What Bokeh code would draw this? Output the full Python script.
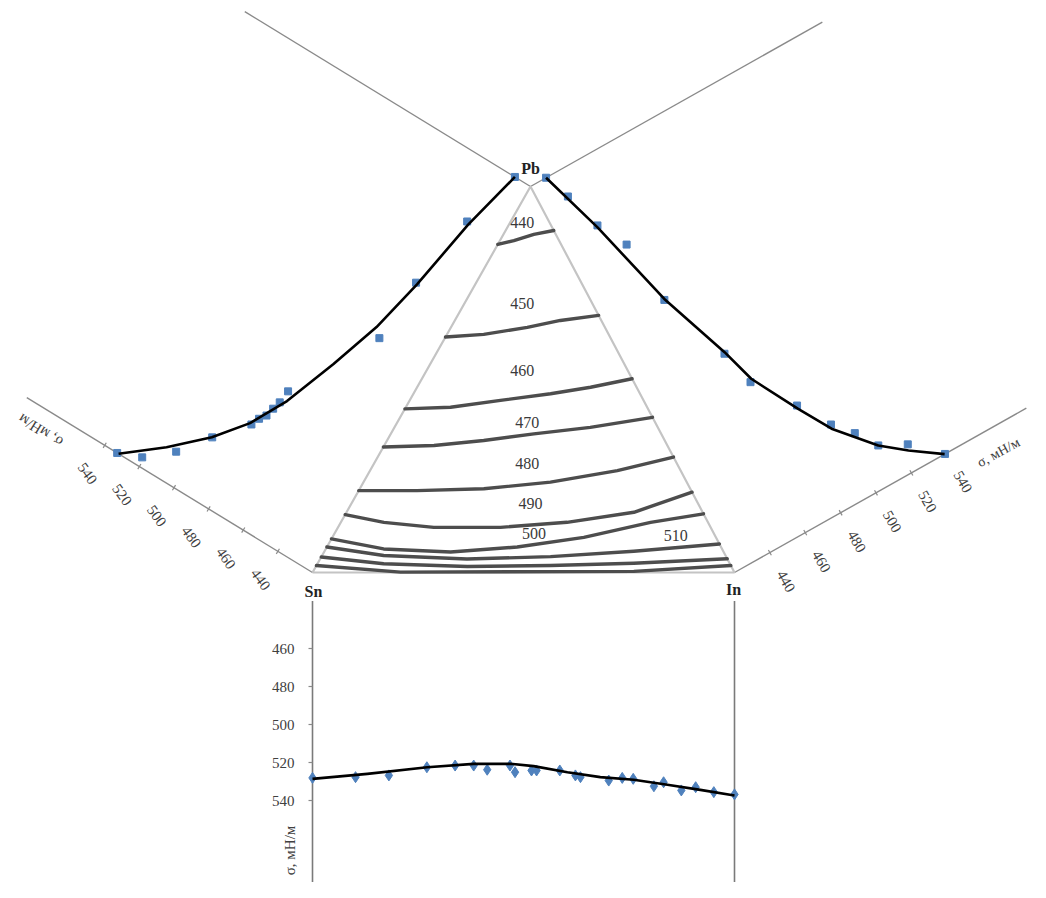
import numpy as np
from bokeh.plotting import figure
from bokeh.models import Range1d
from bokeh.core.properties import value
from bokeh.embed import file_html
from bokeh.resources import INLINE

# ---------------- data ----------------
# Sn-Pb binary (x_Pb, sigma mN/m)
snpb_pts_x = [0.0, 0.021, 0.072, 0.142, 0.213, 0.233, 0.248, 0.269, 0.289, 0.320, 0.530, 0.680, 0.858, 1.0]
snpb_pts_s = [532.8, 521.0, 507.8, 495.8, 482.1, 480.2, 477.8, 476.6, 475.3, 474.4, 448.1, 445.8, 438.7, 429.0]
snpb_fit_x = [0.0, 0.069, 0.142, 0.214, 0.300, 0.426, 0.548, 0.678, 0.853, 1.0]
snpb_fit_s = [532.0, 513.0, 496.0, 483.0, 472.5, 461.5, 452.0, 445.0, 437.5, 429.0]

# In-Pb binary (x_Pb, sigma)
inpb_pts_x = [1.0, 0.938, 0.847, 0.776, 0.623, 0.448, 0.362, 0.263, 0.187, 0.143, 0.092, 0.061, 0.0]
inpb_pts_s = [428.8, 434.0, 440.2, 448.5, 452.2, 466.0, 470.8, 485.7, 496.1, 504.5, 511.9, 525.0, 539.0]
inpb_fit_x = [0.0, 0.048, 0.092, 0.178, 0.255, 0.368, 0.451, 0.625, 0.843, 1.0]
inpb_fit_s = [538.8, 523.9, 511.9, 495.4, 485.4, 471.9, 466.4, 452.4, 439.8, 428.8]

# Sn-In binary (x_In, sigma)
snin_pts_x = [0.0, 0.102, 0.181, 0.271, 0.338, 0.382, 0.414, 0.468, 0.480, 0.519, 0.531, 0.586,
              0.623, 0.635, 0.702, 0.734, 0.760, 0.809, 0.832, 0.874, 0.908, 0.951, 1.0]
snin_pts_s = [528.1, 527.7, 526.8, 522.5, 521.6, 521.6, 523.8, 521.6, 525.1, 524.2, 524.2, 524.2,
              526.8, 527.7, 529.5, 528.1, 528.6, 532.5, 530.4, 534.7, 533.0, 535.6, 536.8]
snin_fit_x = [0.0, 0.130, 0.272, 0.382, 0.469, 0.524, 0.604, 0.682, 0.761, 0.841, 0.919, 1.0]
snin_fit_s = [528.6, 526.0, 522.5, 520.7, 520.7, 521.9, 525.1, 527.7, 529.1, 531.7, 534.4, 537.4]

# ternary iso-lines of surface tension (x_In, x_Pb)
iso_levels = [440, 450, 460, 470, 480, 490, 500, 510, 520, 530]
iso_in = [
    [0.0, 0.033, 0.072, 0.114],
    [0.0, 0.087, 0.181, 0.250, 0.334],
    [0.0, 0.106, 0.215, 0.325, 0.411, 0.498],
    [0.0, 0.118, 0.229, 0.339, 0.464, 0.598],
    [0.0, 0.138, 0.294, 0.443, 0.586, 0.701],
    [0.0, 0.102, 0.227, 0.385, 0.536, 0.681, 0.792],
    [0.0, 0.137, 0.300, 0.451, 0.596, 0.734, 0.848],
    [0.0, 0.146, 0.348, 0.543, 0.733, 0.926],
    [0.0, 0.157, 0.359, 0.555, 0.749, 0.9645],
    [0.0, 0.208, 0.760, 0.982],
]
iso_pb = [
    [0.850, 0.860, 0.876, 0.886],
    [0.610, 0.617, 0.635, 0.653, 0.666],
    [0.424, 0.428, 0.446, 0.463, 0.480, 0.502],
    [0.325, 0.329, 0.342, 0.359, 0.376, 0.402],
    [0.212, 0.212, 0.217, 0.234, 0.264, 0.299],
    [0.150, 0.130, 0.117, 0.117, 0.130, 0.156, 0.208],
    [0.087, 0.061, 0.053, 0.066, 0.091, 0.130, 0.152],
    [0.066, 0.044, 0.035, 0.041, 0.055, 0.074],
    [0.040, 0.0225, 0.0155, 0.018, 0.024, 0.0355],
    [0.018, 0.001, 0.003, 0.018],
]
iso_label_text = ["440", "450", "460", "470", "480", "490", "500", "510"]
iso_label_in = [0.028, 0.137, 0.227, 0.308, 0.363, 0.424, 0.473, 0.811]
iso_label_pb = [0.9075, 0.697, 0.523, 0.389, 0.282, 0.179, 0.100, 0.096]

tick_vals = [440, 460, 480, 500, 520, 540]
bottom_tick_vals = [460, 480, 500, 520, 540]
axis_title = "σ, мН/м"

# ---------------- geometry ----------------
SN = np.array([312.0, 572.0])
IN = np.array([734.0, 572.0])
PB = np.array([530.0, 186.0])
S0 = 420.0      # sigma at the triangle edge
K = 2.03        # px per mN/m (side panels)
KB = 1.9        # px per mN/m (bottom panel)
DL = np.array([-0.853, -0.522]); DL = DL / np.linalg.norm(DL)
DR = np.array([0.87, -0.49]); DR = DR / np.linalg.norm(DR)
S_MAX = 585.0


def tern(a, b):
    a = np.asarray(a, float); b = np.asarray(b, float)
    P = SN[None, :] + a[:, None] * (IN - SN)[None, :] + b[:, None] * (PB - SN)[None, :]
    return P[:, 0], P[:, 1]


def left(t, s):
    t = np.asarray(t, float); s = np.asarray(s, float)
    P = SN[None, :] + t[:, None] * (PB - SN)[None, :] + ((s - S0) * K)[:, None] * DL[None, :]
    return P[:, 0], P[:, 1]


def right(t, s):
    t = np.asarray(t, float); s = np.asarray(s, float)
    P = IN[None, :] + t[:, None] * (PB - IN)[None, :] + ((s - S0) * K)[:, None] * DR[None, :]
    return P[:, 0], P[:, 1]


def bottom(x, s):
    x = np.asarray(x, float); s = np.asarray(s, float)
    return SN[0] + x * (IN[0] - SN[0]), SN[1] + (s - S0) * KB


W, H = 1030, 882
p = figure(width=W, height=H, x_range=Range1d(0, W), y_range=Range1d(H, 0),
           output_backend="svg", toolbar_location=None, x_axis_type=None, y_axis_type=None,
           min_border=0)
p.outline_line_color = None
p.background_fill_color = "white"

SERIF = value("Liberation Serif")
AX_GREY = "#8a8a8a"

# side axis lines (through triangle vertices)
for base, d in [(SN, DL), (PB, DL), (IN, DR), (PB, DR)]:
    end = base + (S_MAX - S0) * K * d
    p.line([base[0], end[0]], [base[1], end[1]], line_color=AX_GREY, line_width=1.4)

# bottom axis lines
for xv in [0.0, 1.0]:
    bx, by = bottom([xv, xv], [435.0, 600.0])
    p.line(bx, by, line_color="#7a7a7a", line_width=1.6)

# triangle
tx, ty = tern([0, 1, 0, 0], [0, 0, 1, 0])
p.line(tx, ty, line_color="#c4c4c4", line_width=2.2)

# iso-lines
xs, ys = [], []
for a, b in zip(iso_in, iso_pb):
    x, y = tern(a, b)
    xs.append(list(x)); ys.append(list(y))
p.multi_line(xs, ys, line_color="#4d4d4d", line_width=3.4, line_cap="round", line_join="round")

lx, ly = tern(iso_label_in, iso_label_pb)
p.text(lx, ly, text=iso_label_text, text_font=SERIF, text_font_size="16px",
       text_color="#3a3a3a", text_align="center", text_baseline="middle")

# ticks on side axes
for base, d, ang in [(SN, DL, -0.95), (IN, DR, -1.05)]:
    perp = np.array([-d[1], d[0]])
    if perp[1] < 0:
        perp = -perp
    tx0, ty0, tx1, ty1, labx, laby = [], [], [], [], [], []
    for v in tick_vals:
        c = base + (v - S0) * K * d
        tx0.append(c[0] - 3 * perp[0]); ty0.append(c[1] - 3 * perp[1])
        tx1.append(c[0] + 3 * perp[0]); ty1.append(c[1] + 3 * perp[1])
        lp = c + 33 * perp
        labx.append(lp[0]); laby.append(lp[1])
    p.segment(tx0, ty0, tx1, ty1, line_color=AX_GREY, line_width=1.2)
    p.text(labx, laby, text=[str(v) for v in tick_vals], angle=ang, text_font=SERIF,
           text_font_size="15px", text_color="#404040", text_align="center",
           text_baseline="middle")

# bottom ticks
bx, by = bottom([0.0] * len(bottom_tick_vals), bottom_tick_vals)
p.segment(bx - 4, by, bx, by, line_color=AX_GREY, line_width=1.2)
p.text(bx - 18, by, text=[str(v) for v in bottom_tick_vals], text_font=SERIF,
       text_font_size="15px", text_color="#404040", text_align="right",
       text_baseline="middle")

# axis titles
p.text([289], [850], text=[axis_title], angle=np.pi / 2, text_font=SERIF,
       text_font_size="15px", text_color="#404040", text_align="center", text_baseline="middle")
p.text([40], [430], text=[axis_title], angle=2.59, text_font=SERIF,
       text_font_size="15px", text_color="#404040", text_align="center", text_baseline="middle")
p.text([998], [452], text=[axis_title], angle=0.50, text_font=SERIF,
       text_font_size="14px", text_color="#404040", text_align="center", text_baseline="middle")

# binary curves
BLUE = "#4f81bd"
x, y = left(snpb_pts_x, snpb_pts_s)
p.scatter(x, y, marker="square", size=7, fill_color=BLUE, line_color=BLUE)
x, y = left(snpb_fit_x, snpb_fit_s)
p.line(x, y, line_color="black", line_width=2.6, line_join="round")

x, y = right(inpb_pts_x, inpb_pts_s)
p.scatter(x, y, marker="square", size=7, fill_color=BLUE, line_color=BLUE)
x, y = right(inpb_fit_x, inpb_fit_s)
p.line(x, y, line_color="black", line_width=2.6, line_join="round")

x, y = bottom(snin_pts_x, snin_pts_s)
p.scatter(x, y, marker="diamond", size=11, fill_color=BLUE, line_color=BLUE)
x, y = bottom(snin_fit_x, snin_fit_s)
p.line(x, y, line_color="black", line_width=2.6, line_join="round")

# vertex labels
p.text([SN[0] + 1, IN[0] - 1, PB[0]], [SN[1] + 19, IN[1] + 17, PB[1] - 18], text=["Sn", "In", "Pb"],
       text_font=SERIF, text_font_size="16px", text_font_style="bold", text_color="#222222",
       text_align="center", text_baseline="middle")

open("out.html", "w").write(file_html(p, INLINE))
